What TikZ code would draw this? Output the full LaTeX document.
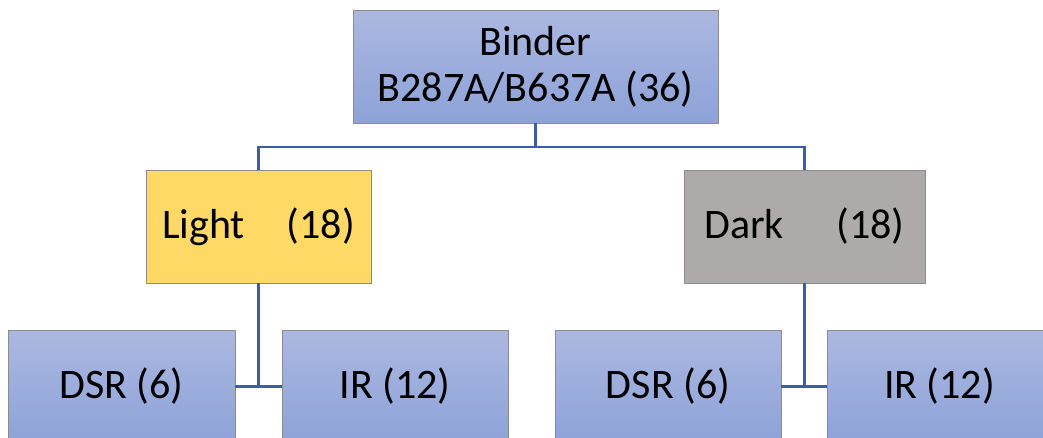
\documentclass[tikz,border=0pt]{standalone}
\usepackage{fontspec}
\setmainfont{Carlito}
\definecolor{boxtop}{RGB}{171,184,225}
\definecolor{boxbot}{RGB}{141,162,216}
\definecolor{lightfill}{RGB}{255,217,102}
\definecolor{darkfill}{RGB}{174,170,170}
\definecolor{linkblue}{RGB}{58,94,166}
\definecolor{edgegray}{RGB}{140,140,140}
\begin{document}
\begin{tikzpicture}[x=1pt,y=-1pt,
  box/.style={rectangle,draw=edgegray,line width=0.8pt,inner sep=0pt,outer sep=0pt,
    minimum height=113pt,align=center,font=\fontsize{42}{46}\selectfont},
  bluebox/.style={box,top color=boxtop,bottom color=boxbot},
  link/.style={draw=linkblue,line width=2.6pt}]
\useasboundingbox (0,0) rectangle (1043,437);
\clip (0,0) rectangle (1043,437);

% top level
\node[bluebox,minimum width=365pt] (binder) at (535.5,66.5) {Binder\\B287A/B637A (36)};

% second level
\node[box,fill=lightfill,minimum width=225pt] (light) at (258.5,226.5) {Light\quad(18)};
\node[box,fill=darkfill,minimum width=241pt] (dark) at (804.5,226.5) {Dark\hspace{1.25em}(18)};

% third level
\node[bluebox,minimum width=227pt] (dsrL) at (121.5,386.5) {DSR (6)};
\node[bluebox,minimum width=226pt] (irL) at (395,386.5) {IR (12)};
\node[bluebox,minimum width=226pt] (dsrR) at (668,386.5) {DSR (6)};
\node[bluebox,minimum width=225pt] (irR) at (939.5,386.5) {IR (12)};

% connectors
\draw[link] (binder.south) -- ++(0,24) -| (light.north);
\draw[link] (binder.south) -- ++(0,24) -| (dark.north);
\draw[link] (light.south) |- (dsrL.east);
\draw[link] (light.south) |- (irL.west);
\draw[link] (dark.south) |- (dsrR.east);
\draw[link] (dark.south) |- (irR.west);
\end{tikzpicture}
\end{document}
